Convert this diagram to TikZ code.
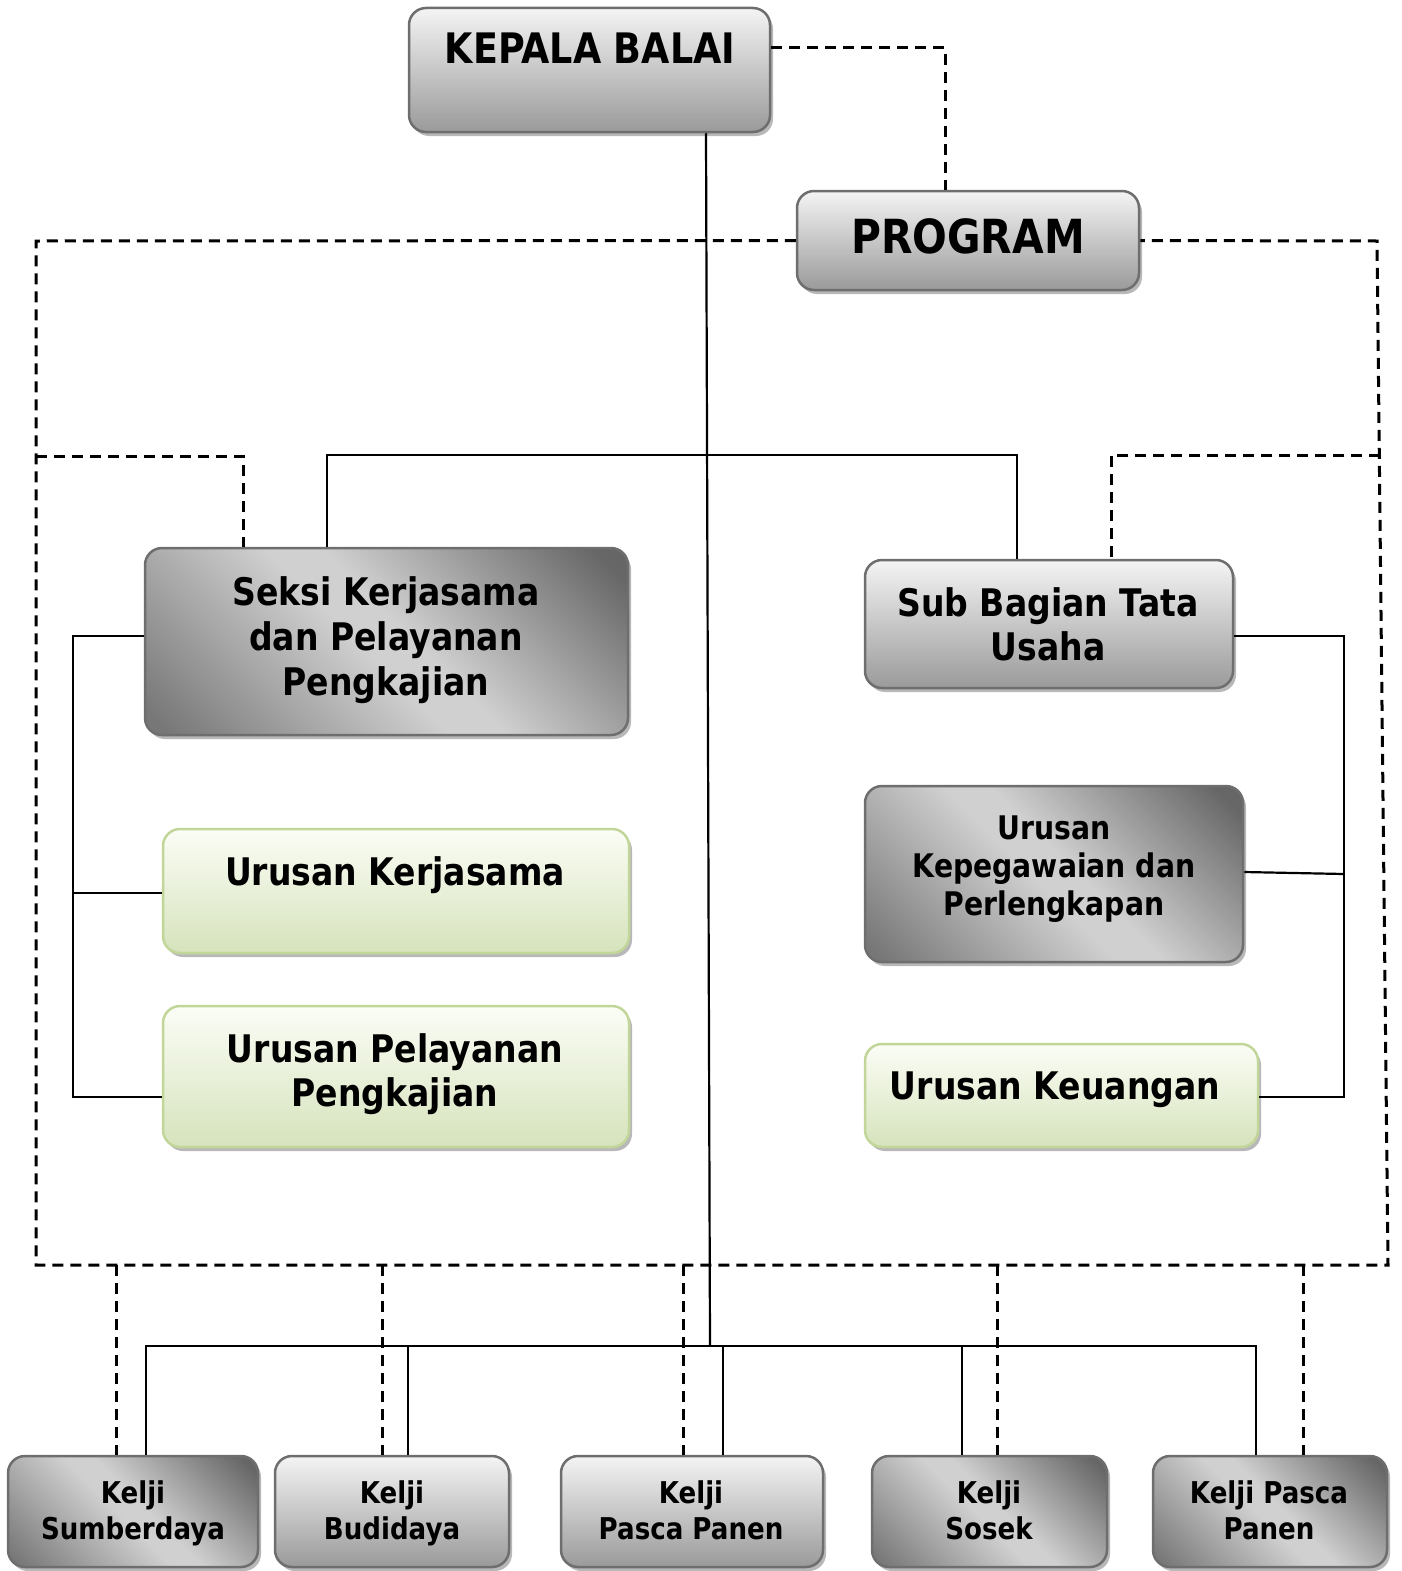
\documentclass[tikz,border=0pt]{standalone}
\usepackage{fontspec}
\setmainfont{DejaVu Sans}[FakeStretch=0.87]
\usetikzlibrary{shadows}
\definecolor{boxline}{HTML}{6E6E6E}
\definecolor{greenline}{HTML}{C2D69A}
\definecolor{greyTop}{HTML}{F4F4F4}
\definecolor{greyBot}{HTML}{9A9A9A}
\definecolor{darkEnd}{HTML}{666666}
\definecolor{darkLow}{HTML}{777777}
\definecolor{darkMid}{HTML}{D0D0D0}
\definecolor{greenTop}{HTML}{FBFDF6}
\definecolor{greenBot}{HTML}{D6E3BC}
\pgfdeclarehorizontalshading{diagband}{100bp}{color(0bp)=(darkLow); color(17bp)=(darkLow);
  color(47bp)=(darkMid); color(53bp)=(darkMid); color(82bp)=(darkEnd); color(100bp)=(darkEnd)}
\tikzset{
box/.style={rectangle, rounded corners=17pt, draw=boxline, line width=2.5pt, inner sep=0pt,
  drop shadow={shadow xshift=3pt, shadow yshift=-4pt, fill=black!28, opacity=1}}, % every box
boxsize/.style 2 args={minimum width=#1pt, minimum height=#2pt}, % width and height in px
greybox/.style={box, top color=greyTop, bottom color=greyBot}, % light to grey, top to bottom
darkbox/.style={box, shading=diagband, shading angle=45}, % dark corners, light band
greenbox/.style={box, draw=greenline, top color=greenTop, bottom color=greenBot}, % pale green
txt/.style 2 args={align=center, inner sep=0pt, font=\fontsize{#1}{#2}\selectfont\bfseries}, % size, line skip
link/.style={line width=2.2pt}, % solid lines
dashlink/.style={line width=3pt, dash pattern=on 11pt off 7pt}, % dashed lines
}
\begin{document}
\begin{tikzpicture}[x=1pt,y=-1pt]
        \useasboundingbox (0,0) rectangle (1401,1571);

        % boxes
        \node[greybox, boxsize={361}{124}] (kb) at (589.5,70) {};
        \node[greybox, boxsize={342}{99}] (prog) at (968,240.5) {};
        \node[darkbox, boxsize={483}{187}] (sk) at (386.5,641.5) {};
        \node[greybox, boxsize={368}{128}] (sb) at (1049,624) {};
        \node[greenbox, boxsize={466}{124}] (uk) at (396,891) {};
        \node[greenbox, boxsize={466}{141}] (up) at (396,1076.5) {};
        \node[darkbox, boxsize={378}{176}] (kp) at (1054,874) {};
        \node[greenbox, boxsize={393}{103}] (ku) at (1061.5,1095.5) {};
        \node[darkbox, boxsize={250}{111}] (k1) at (133,1511.5) {};
        \node[greybox, boxsize={234}{111}] (k2) at (392,1511.5) {};
        \node[greybox, boxsize={262}{111}] (k3) at (692,1511.5) {};
        \node[darkbox, boxsize={235}{111}] (k4) at (989.5,1511.5) {};
        \node[darkbox, boxsize={234}{111}] (k5) at (1270,1511.5) {};

        % texts
        \node[txt={42}{48}] (kb-t) at (590,48) {KEPALA BALAI};
        \node[txt={47}{54}] (prog-t) at (968,236) {PROGRAM};
        \node[txt={38}{45}] (sk-t) at (386,640) {Seksi Kerjasama\\dan Pelayanan\\Pengkajian};
        \node[txt={38}{44}] (sb-t) at (1048,624) {Sub Bagian Tata\\Usaha};
        \node[txt={38}{44}] (uk-t) at (395,875) {Urusan Kerjasama};
        \node[txt={38}{44}] (up-t) at (395,1074) {Urusan Pelayanan\\Pengkajian};
        \node[txt={32.5}{38}] (kp-t) at (1054,869) {Urusan\\Kepegawaian dan\\Perlengkapan};
        \node[txt={38}{44}] (ku-t) at (1055,1090) {Urusan Keuangan};
        \node[txt={30}{36}] (k1-t) at (133,1513) {Kelji\\Sumberdaya};
        \node[txt={30}{36}] (k2-t) at (392,1513) {Kelji\\Budidaya};
        \node[txt={30}{36}] (k3-t) at (691,1510) {Kelji\\Pasca Panen};
        \node[txt={30}{36}] (k4-t) at (989,1510) {Kelji\\Sosek};
        \node[txt={30}{36}] (k5-t) at (1269,1510) {Kelji Pasca\\Panen};

        % solid lines
        \coordinate (spine) at (710,1346);
        \draw[link] (kb.south -| 706,0) -- (spine);
        \draw[link] (sk.north -| 327,0) |- (706,455) -| (sb.north -| 1017,0);
        \draw[link] (sk.west |- 0,636) -| (73,1097) -- (up.west |- 0,1097);
        \draw[link] (73,893) -- (uk.west |- 0,893);
        \draw[link] (sb.east |- 0,636) -| (1344,1097) -- (ku.east |- 0,1097);
        \draw[link] (kp.east |- 0,872) -- (1344,874);
        \draw[link] (k1.north -| 146,0) -- (146,1346) -- (1256,1346) -- (k5.north -| 1256,0);
        \foreach \x/\k in {408/k2, 723/k3, 962/k4}
          \draw[link] (\x,1346) -- (\k.north -| \x,0);

        % dashed lines
        \draw[dashlink] (kb.east |- 0,48) -| (prog.north -| 945,0);
        \draw[dashlink] (prog.west) -- (36,241) -- (36,1265) -- (1388,1265) -- (1377,241) -- (prog.east);
        \draw[dashlink] (36,456) -| (sk.north -| 243,0);
        \draw[dashlink] (1380,455) -| (sb.north -| 1111,0);
        \foreach \x/\k in {116/k1, 382/k2, 683/k3, 997/k4, 1303/k5}
          \draw[dashlink] (\x,1265) -- (\k.north -| \x,0);
\end{tikzpicture}
\end{document}
